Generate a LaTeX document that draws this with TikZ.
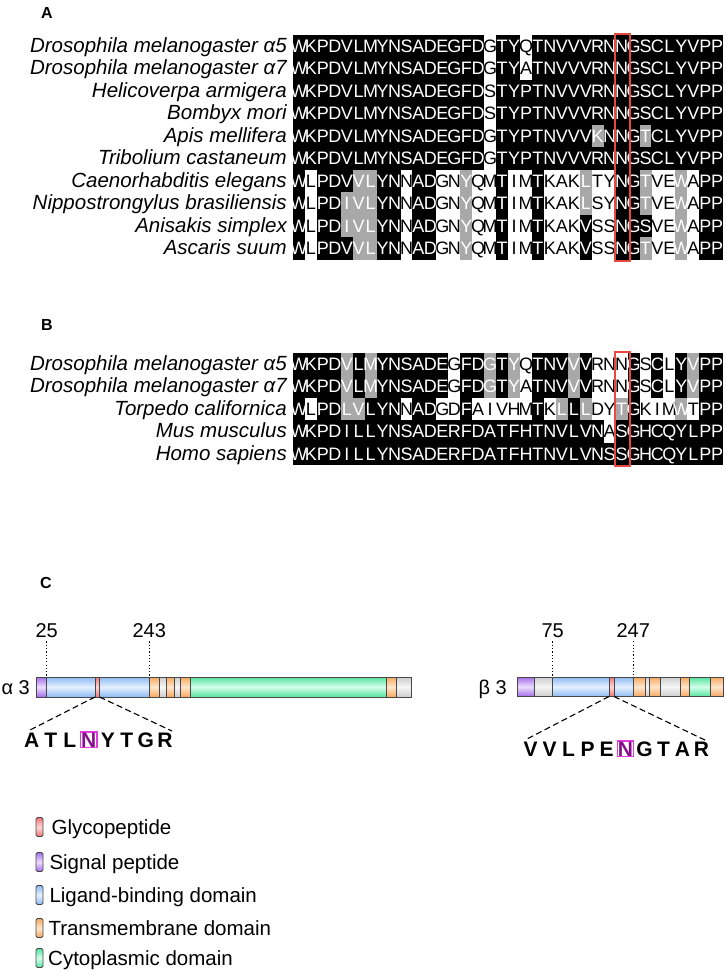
\documentclass[tikz,border=0pt]{standalone}
\usepackage{fontspec}
\setmainfont{Liberation Sans}
\definecolor{alngray}{HTML}{A8A8A8}
\definecolor{boxred}{HTML}{E8483F}
\definecolor{sig}{HTML}{A36DE8}\definecolor{sigL}{HTML}{EEDDFF}
\definecolor{lig}{HTML}{8DBAF2}\definecolor{ligL}{HTML}{E6F0FF}
\definecolor{gly}{HTML}{F07575}\definecolor{glyL}{HTML}{FFD6D6}
\definecolor{tmd}{HTML}{F6A860}\definecolor{tmdL}{HTML}{FFE6CC}
\definecolor{cyt}{HTML}{55E3A0}\definecolor{cytL}{HTML}{D4FFEA}
\definecolor{gry}{HTML}{CDCDCD}\definecolor{gryL}{HTML}{F6F6F6}
\definecolor{nmag}{HTML}{86108A}
\definecolor{magbox}{HTML}{E03CE0}
\makeatletter
\newcount\aln@col
\def\aln@x{293}
\def\aln@w{11.95}
\def\alnrow#1#2#3{%
  \def\aln@y{#1}%
  \aln@col=0 \aln@bg#3\relax
  \aln@col=0 \aln@fg#2\relax#3\relax}
\def\aln@bg#1#2\relax{%
  \ifx K#1\fill[black] ({\aln@x+\the\aln@col*\aln@w-0.03},{\aln@y-11.3}) rectangle ++(\aln@w+0.06,22.6);\fi
  \ifx G#1\fill[alngray] ({\aln@x+\the\aln@col*\aln@w-0.03},{\aln@y-11.3}) rectangle ++(\aln@w+0.06,22.6);\fi
  \advance\aln@col by 1
  \ifx\relax#2\relax\else\aln@bg#2\relax\fi}
\def\aln@fg#1#2\relax#3#4\relax{%
  \ifx W#3\def\aln@tc{black}\else\def\aln@tc{white}\fi
  \node[res,text=\aln@tc,anchor=base] at ({\aln@x+(\the\aln@col+0.5)*\aln@w},{\aln@y+6.4}) {#1};
  \advance\aln@col by 1
  \ifx\relax#2\relax\else\aln@fg#2\relax#4\relax\fi}
\makeatother
\begin{document}
\begin{tikzpicture}[x=1pt,y=-1pt,
  res/.style={font=\fontsize{18}{18}\selectfont, inner sep=0pt, outer sep=0pt},
  lab/.style={font=\fontsize{20.5}{20.5}\selectfont\itshape, inner sep=0pt, anchor=base east},
  head/.style={font=\fontsize{16}{16}\selectfont\bfseries, inner sep=0pt, anchor=base},
  num/.style={font=\fontsize{20}{20}\selectfont, inner sep=0pt, anchor=base},
  pep/.style={font=\fontsize{21}{21}\selectfont\bfseries, inner sep=0pt, anchor=base},
  leg/.style={font=\fontsize{20.5}{20.5}\selectfont, inner sep=0pt, anchor=base west},
  segline/.style={draw=black!72, line width=0.9pt},
  dotline/.style={line width=1pt, dash pattern=on 1.2pt off 2.1pt},
  dashline/.style={line width=1.1pt, dash pattern=on 6pt off 3.5pt},
  redbox/.style={draw=boxred, line width=1.6pt}]
\useasboundingbox (0,0) rectangle (725,971);
\fill[white] (0,0) rectangle (725,971);

% ---------------- A ----------------
\node[head] (hA) at (47,19) {A};
\alnrow{46}{WKPDVLMYNSADEGFDGTYQTNVVVRNNGSCLYVPP}{KKKKKKKKKKKKKKKKWKKWKKKKKKKKKKKKKKKK}
\alnrow{68.5}{WKPDVLMYNSADEGFDGTYATNVVVRNNGSCLYVPP}{KKKKKKKKKKKKKKKKWKKWKKKKKKKKKKKKKKKK}
\alnrow{91}{WKPDVLMYNSADEGFDSTYPTNVVVRNNGSCLYVPP}{KKKKKKKKKKKKKKKKWKKKKKKKKKKKKKKKKKKK}
\alnrow{113.5}{WKPDVLMYNSADEGFDSTYPTNVVVRNNGSCLYVPP}{KKKKKKKKKKKKKKKKWKKKKKKKKKKKKKKKKKKK}
\alnrow{136}{WKPDVLMYNSADEGFDGTYPTNVVVKNNGTCLYVPP}{KKKKKKKKKKKKKKKKWKKKKKKKKGKKKGKKKKKK}
\alnrow{158.5}{WKPDVLMYNSADEGFDGTYPTNVVVRNNGSCLYVPP}{KKKKKKKKKKKKKKKKWKKKKKKKKKKKKKKKKKKK}
\alnrow{181}{WLPDVVLYNNADGNYQMTIMTKAKLTYNGTVEWAPP}{KWKKKGGKKWKKWWGWWKWWKWWWGWWKKGWWGWKK}
\alnrow{203.5}{WLPDIVLYNNADGNYQMTIMTKAKLSYNGTVEWAPP}{KWKKGGGKKWKKWWGWWKWWKWWWGWWKKGWWGWKK}
\alnrow{226}{WLPDIVLYNNADGNYQMTIMTKAKVSSNGSVEWAPP}{KWKKGGGKKWKKWWGWWKWWKWWWKWWKKKWWGWKK}
\alnrow{248.5}{WLPDVVLYNNADGNYQMTIMTKAKVSSNGTVEWAPP}{KWKKKGGKKWKKWWGWWKWWKWWWKWWKKGWWGWKK}
\node[lab] (la1) at (287,52.4) {Drosophila melanogaster α5};
\node[lab] (la2) at (287,74.9) {Drosophila melanogaster α7};
\node[lab] (la3) at (287,97.4) {Helicoverpa armigera};
\node[lab] (la4) at (287,119.9) {Bombyx mori};
\node[lab] (la5) at (287,142.4) {Apis mellifera};
\node[lab] (la6) at (287,164.9) {Tribolium castaneum};
\node[lab] (la7) at (287,187.4) {Caenorhabditis elegans};
\node[lab] (la8) at (287,209.9) {Nippostrongylus brasiliensis};
\node[lab] (la9) at (287,232.4) {Anisakis simplex};
\node[lab] (la10) at (287,254.9) {Ascaris suum};
\draw[redbox] (615,34) rectangle (630,261);

% ---------------- B ----------------
\node[head] (hB) at (47,330) {B};
\alnrow{364}{WKPDVLMYNSADEGFDGTYQTNVVVRNNGSCLYVPP}{KKKKGKGKKKKKKWKKGKGWKKKGKWWWKWKWKGKK}
\alnrow{386.5}{WKPDVLMYNSADEGFDGTYATNVVVRNNGSCLYVPP}{KKKKGKGKKKKKKWKKGKGWKKKGKWWWKWKWKGKK}
\alnrow{409}{WLPDLVLYNNADGDFAIVHMTKLLLDYTGKIMWTPP}{KWKKGGKKKWKKWWKWWWWWKWGKGWWGKWWWGWKK}
\alnrow{431.5}{WKPDILLYNSADERFDATFHTNVLVNASGHCQYLPP}{KKKKKKKKKKKKKKKKKKKKKKKKKKWKKKKKKKKK}
\alnrow{454}{WKPDILLYNSADERFDATFHTNVLVNSSGHCQYLPP}{KKKKKKKKKKKKKKKKKKKKKKKKKKKKKKKKKKKK}
\node[lab] (lb1) at (287,370.4) {Drosophila melanogaster α5};
\node[lab] (lb2) at (287,392.9) {Drosophila melanogaster α7};
\node[lab] (lb3) at (287,415.4) {Torpedo californica};
\node[lab] (lb4) at (287,437.9) {Mus musculus};
\node[lab] (lb5) at (287,460.4) {Homo sapiens};
\draw[redbox] (615,352) rectangle (630,466);

% ---------------- C ----------------
\node[head] (hC) at (46,588) {C};

% alpha 3
\node[num, anchor=base east] (la3lab) at (30,694) {α 3};
\foreach \a/\b/\c in {36/46.5/sig, 46.5/95/lig, 95/99.5/gly, 99.5/149.3/lig, 149.3/159.3/tmd, 159.3/166.7/gry, 166.7/174/tmd, 174/180.7/gry, 180.7/190/tmd, 190/386.3/cyt, 386.3/396/tmd, 396/411.7/gry}
  {\shade[top color=\c, bottom color=\c, middle color=\c L] (\a,677) rectangle (\b,697);
   \draw[segline] (\a,677) rectangle (\b,697);}
\node[num] (n25) at (46.7,637) {25};
\node[num] (n243) at (149.3,637) {243};
\coordinate (t25) at (46.7,677);
\coordinate (t243) at (149.3,677);
\draw[dotline] ([yshift=-4pt]n25.south) -- (t25);
\draw[dotline] ([yshift=-4pt]n243.south) -- (t243);
\coordinate (gAl) at (95,697);
\coordinate (gAr) at (99.5,697);
\coordinate (pAl) at (30,730);
\coordinate (pAr) at (172,731);
\draw[dashline] (gAl) -- (pAl);
\draw[dashline] (gAr) -- (pAr);
\node[pep] (pa1) at (31.7,747) {A};
\node[pep] (pa2) at (50.7,747) {T};
\node[pep] (pa3) at (69.8,747) {L};
\node[pep, text=nmag, draw=magbox, line width=1.4pt, inner sep=0.6pt] (pa4) at (88.8,747) {N};
\node[pep] (pa5) at (107.9,747) {Y};
\node[pep] (pa6) at (126.9,747) {T};
\node[pep] (pa7) at (145.9,747) {G};
\node[pep] (pa8) at (165,747) {R};

% beta 3
\node[num, anchor=base east] (lb3lab) at (507,694) {β 3};
\foreach \a/\b/\c in {517.3/534/sig, 534/552.7/gry, 552.7/609/lig, 609/614/gly, 614/633.3/lig, 633.3/645/tmd, 645/649.3/gry, 649.3/660/tmd, 660/680.7/gry, 680.7/689/tmd, 689/710.7/cyt, 710.7/723.3/tmd}
  {\shade[top color=\c, bottom color=\c, middle color=\c L] (\a,677) rectangle (\b,696.5);
   \draw[segline] (\a,677) rectangle (\b,696.5);}
\node[num] (n75) at (552.7,637) {75};
\node[num] (n247) at (633.3,637) {247};
\coordinate (t75) at (552.7,677);
\coordinate (t247) at (633.3,677);
\draw[dotline] ([yshift=-4pt]n75.south) -- (t75);
\draw[dotline] ([yshift=-4pt]n247.south) -- (t247);
\coordinate (gBl) at (609,696.5);
\coordinate (gBr) at (614,696.5);
\coordinate (pBl) at (525,740);
\coordinate (pBr) at (708,741.5);
\draw[dashline] (gBl) -- (pBl);
\draw[dashline] (gBr) -- (pBr);
\node[pep] (pb1) at (530.5,756) {V};
\node[pep] (pb2) at (549.5,756) {V};
\node[pep] (pb3) at (568.5,756) {L};
\node[pep] (pb4) at (587.5,756) {P};
\node[pep] (pb5) at (606.5,756) {E};
\node[pep, text=nmag, draw=magbox, line width=1.4pt, inner sep=0.6pt] (pb6) at (625.5,756) {N};
\node[pep] (pb7) at (644.5,756) {G};
\node[pep] (pb8) at (663.5,756) {T};
\node[pep] (pb9) at (682.5,756) {A};
\node[pep] (pb10) at (701.5,756) {R};

% legend
\foreach \c/\yc/\t/\tx in {gly/827/Glycopeptide/51.5, sig/862/Signal peptide/49.3, lig/895/Ligand-binding domain/49.3, tmd/928/Transmembrane domain/48.3, cyt/958/Cytoplasmic domain/48}
  {\shade[top color=\c, bottom color=\c, middle color=\c L, rounded corners=1.5pt] (36,\yc-9.5) rectangle (43,\yc+9.5);
   \draw[segline, rounded corners=1.5pt] (36,\yc-9.5) rectangle (43,\yc+9.5);
   \node[leg] (leg\c) at (\tx,\yc+7.3) {\t};}
\end{tikzpicture}
\end{document}
